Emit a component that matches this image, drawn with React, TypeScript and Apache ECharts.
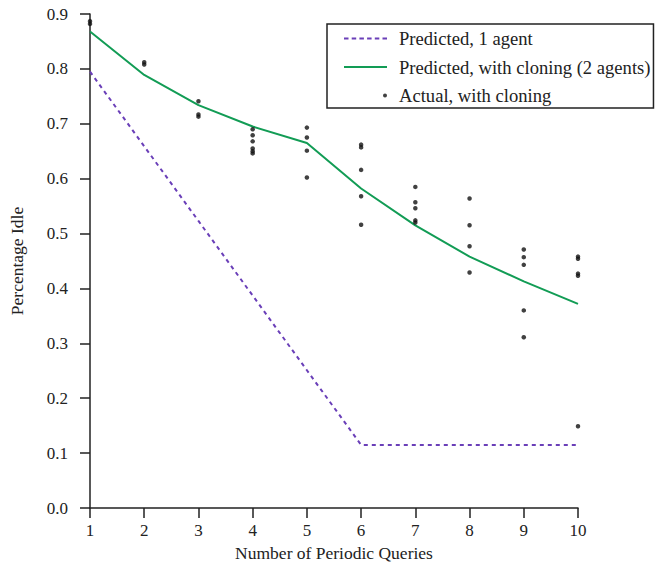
import React, { useEffect, useRef } from "react";
import * as echarts from "echarts";

const queries = [1, 2, 3, 4, 5, 6, 7, 8, 9, 10];
const predictedOneAgent = [0.795, 0.659, 0.523, 0.387, 0.251, 0.115, 0.115, 0.115, 0.115, 0.115];
const predictedCloning = [0.868, 0.789, 0.734, 0.695, 0.665, 0.582, 0.515, 0.458, 0.413, 0.372];
const actualCloning = [
  [0.887, 0.882],
  [0.812, 0.808],
  [0.741, 0.717, 0.713],
  [0.69, 0.679, 0.668, 0.655, 0.65, 0.646],
  [0.693, 0.675, 0.651, 0.602],
  [0.662, 0.657, 0.616, 0.568, 0.516],
  [0.585, 0.557, 0.546, 0.524, 0.52],
  [0.564, 0.515, 0.477, 0.429],
  [0.471, 0.457, 0.443, 0.36, 0.311],
  [0.458, 0.454, 0.427, 0.423, 0.149],
];
const yTicks = [0, 0.1, 0.2, 0.3, 0.4, 0.5, 0.6, 0.7, 0.8, 0.9];

const seriesNames = [
  "Predicted, 1 agent",
  "Predicted, with cloning (2 agents)",
  "Actual, with cloning",
];

const FONT = "'Liberation Serif', 'DejaVu Serif', serif";
const INK = "#222";
const PURPLE = "#6a3fb8";
const GREEN = "#129c55";

const ICON_DASHED =
  "path://M0,0h4.5v2h-4.5zM7.7,0h4.5v2h-4.5zM15.4,0h4.5v2h-4.5zM23.1,0h4.5v2h-4.5zM30.8,0h4.5v2h-4.5zM38.5,0h4.5v2h-4.5z";
const ICON_SOLID = "path://M0,0h43v2h-43z";
const ICON_DOT = "path://M0,2L0.01,2M39,2a2,2 0 1,0 4,0a2,2 0 1,0 -4,0z";

export default function App() {
  const ref = useRef<HTMLDivElement>(null);
  useEffect(() => {
    if (!ref.current) return;
    const chart = echarts.init(ref.current, undefined, { renderer: "svg" });
    const scatterData: number[][] = [];
    actualCloning.forEach((vals, i) => {
      vals.forEach((v) => scatterData.push([queries[i], v]));
    });
    chart.setOption({
      animation: false,
      backgroundColor: "#fff",
      textStyle: { fontFamily: FONT, color: INK },
      grid: { left: 88, top: 14, right: 80, bottom: 64 },
      legend: {
        orient: "vertical",
        left: 327,
        top: 24,
        padding: [5, 3, 3, 17],
        itemGap: 9.5,
        itemWidth: 43,
        itemHeight: 4,
        symbolKeepAspect: true,
        borderColor: INK,
        borderWidth: 1.5,
        backgroundColor: "#fff",
        textStyle: { fontFamily: FONT, fontSize: 18.6, color: INK, padding: [0, 0, 0, 7] },
        data: [
          { name: seriesNames[0], icon: ICON_DASHED },
          { name: seriesNames[1], icon: ICON_SOLID },
          { name: seriesNames[2], icon: ICON_DOT },
        ],
      },
      xAxis: {
        type: "value",
        min: 1,
        max: 10,
        interval: 1,
        name: "Number of Periodic Queries",
        nameLocation: "middle",
        nameGap: 36,
        nameTextStyle: { fontFamily: FONT, fontSize: 17.5, color: INK },
        axisLine: { show: true, onZero: false, lineStyle: { color: INK, width: 1.5 } },
        axisTick: { show: true, inside: false, length: 10, lineStyle: { color: INK, width: 1.5 } },
        axisLabel: { fontFamily: FONT, fontSize: 17, color: INK, margin: 14 },
        splitLine: { show: false },
      },
      yAxis: {
        type: "value",
        min: 0,
        max: 0.9,
        interval: 0.1,
        name: "Percentage Idle",
        nameLocation: "middle",
        nameGap: 64,
        nameTextStyle: { fontFamily: FONT, fontSize: 17.5, color: INK },
        axisLine: { show: true, onZero: false, lineStyle: { color: INK, width: 1.5 } },
        axisTick: { show: true, inside: false, length: 10, lineStyle: { color: INK, width: 1.5 } },
        axisLabel: {
          fontFamily: FONT,
          fontSize: 17,
          color: INK,
          margin: 22,
          formatter: (v: number) => {
            const t = yTicks.find((y) => Math.abs(y - v) < 1e-6);
            return (t !== undefined ? t : v).toFixed(1);
          },
        },
        splitLine: { show: false },
      },
      series: [
        {
          name: seriesNames[0],
          type: "line",
          data: queries.map((q, i) => [q, predictedOneAgent[i]]),
          symbol: "none",
          lineStyle: { color: PURPLE, width: 2, type: [4, 4] },
          itemStyle: { color: PURPLE },
          z: 2,
        },
        {
          name: seriesNames[1],
          type: "line",
          data: queries.map((q, i) => [q, predictedCloning[i]]),
          symbol: "none",
          lineStyle: { color: GREEN, width: 2 },
          itemStyle: { color: GREEN },
          z: 3,
        },
        {
          name: seriesNames[2],
          type: "scatter",
          data: scatterData,
          symbol: "circle",
          symbolSize: 4.5,
          itemStyle: { color: "#111" },
          z: 4,
        },
      ],
    });
    return () => chart.dispose();
  }, []);
  return (
    <div
      ref={ref}
      style={{ position: "absolute", left: 0, top: 0, width: 658, height: 572 }}
    />
  );
}
